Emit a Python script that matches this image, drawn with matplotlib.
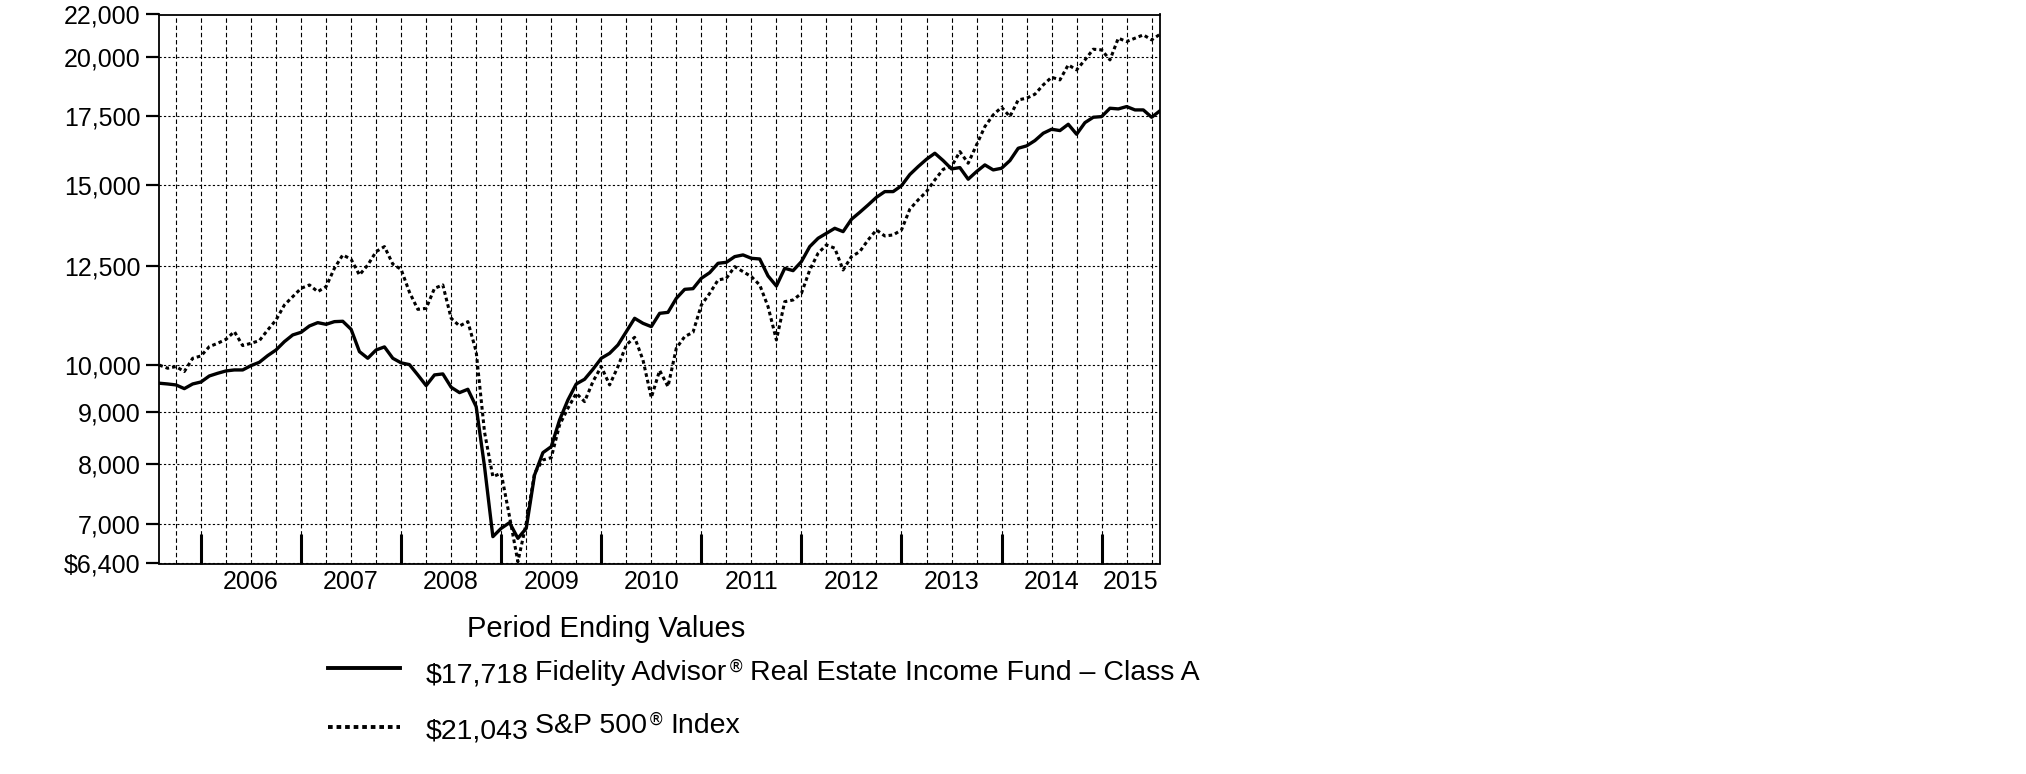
""" growth of a $10,000 investment, fund vs index """
import numpy as np
import matplotlib
matplotlib.use("Agg")
import matplotlib.pyplot as plt
from matplotlib.lines import Line2D

plt.rcParams['font.family'] = ['Liberation Sans', 'DejaVu Sans']

# monthly values, Jul 2005 .. Jul 2015
fund = [9600, 9584, 9563, 9484, 9584, 9627, 9758, 9817, 9869, 9891,
        9891, 9988, 10063, 10215, 10346, 10541, 10701, 10765, 10919, 11001,
        10960, 11026, 11035, 10837, 10307, 10154, 10346, 10417, 10154, 10050,
        10010, 9781, 9549, 9781, 9803, 9513, 9399, 9470, 9107, 7958,
        6798, 6927, 7016, 6773, 6927, 7810, 8212, 8324, 8838, 9245,
        9584, 9686, 9906, 10154, 10268, 10463, 10781, 11109, 10985, 10903,
        11234, 11259, 11619, 11857, 11875, 12155, 12310, 12572, 12600, 12762,
        12811, 12714, 12695, 12219, 11946, 12432, 12366, 12620, 13053, 13300,
        13450, 13602, 13500, 13880, 14100, 14335, 14585, 14772, 14772, 14970,
        15350, 15627, 15887, 16103, 15839, 15545, 15592, 15189, 15452, 15686,
        15510, 15568, 15839, 16285, 16371, 16568, 16844, 16996, 16945, 17187,
        16806, 17251, 17460, 17486, 17818, 17791, 17885, 17751, 17751, 17460,
        17718]
sp500 = [10000, 9929, 9966, 9855, 10154, 10207, 10424, 10502, 10597, 10781,
         10448, 10502, 10565, 10821, 11067, 11447, 11663, 11884, 11974, 11795,
         11929, 12432, 12811, 12687, 12246, 12524, 12907, 13053, 12550, 12400,
         11780, 11335, 11360, 11884, 11974, 11109, 10919, 11026, 10307, 8600,
         7781, 7840, 7111, 6426, 7006, 7840, 8078, 8120, 8740, 9074,
         9385, 9211, 9635, 9966, 9563, 9966, 10463, 10644, 10115, 9295,
         9880, 9527, 10386, 10661, 10765, 11447, 11750, 12108, 12155, 12478,
         12338, 12200, 11974, 11404, 10581, 11533, 11576, 11750, 12384, 12860,
         13103, 13006, 12384, 12762, 12907, 13252, 13551, 13369, 13400, 13551,
         14200, 14499, 14772, 15165, 15533, 15627, 16163, 15745, 16408, 17098,
         17553, 17859, 17486, 18156, 18224, 18389, 18779, 19105, 18991, 19643,
         19423, 19864, 20347, 20317, 19864, 20858, 20703, 20858, 21015, 20780,
         21043]
y_ticks = [6400, 7000, 8000, 9000, 10000, 12500, 15000, 17500, 20000, 22000]
y_labels = ['$6,400', '7,000', '8,000', '9,000', '10,000', '12,500',
            '15,000', '17,500', '20,000', '22,000']
years = ['2006', '2007', '2008', '2009', '2010', '2011', '2012', '2013',
         '2014', '2015']
fund_label = '$17,718'
sp_label = '$21,043'

W, H = 2026, 774
fig = plt.figure(figsize=(W / 100, H / 100), dpi=100)
ax = fig.add_axes([159.3 / W, 1 - 563.5 / H, 1000.7 / W, 549 / H])

months = np.arange(len(fund))
ax.plot(months, fund, color='black', lw=2.4, solid_joinstyle='round', zorder=4)
ax.plot(months, sp500, color='black', lw=2.2, linestyle=(0, (1.2, 1.0)), zorder=3)

ax.set_yscale('log')
ax.set_xlim(0, 120)
ax.set_ylim(6400, 22000)
ax.yaxis.set_minor_locator(matplotlib.ticker.NullLocator())
ax.set_yticks(y_ticks)
ax.set_yticklabels(y_labels)
ax.tick_params(axis='y', direction='out', length=9.4, width=1.6, pad=4,
               labelsize=18)

# year ticks on Jan 1st, labels in the middle of each year
year_pos = [5 + 12 * i for i in range(len(years))]
label_pos = [(p + min(p + 12, 120)) / 2 for p in year_pos]
ax.set_xticks(year_pos)
ax.set_xticklabels([''] * len(year_pos))
ax.set_xticks(label_pos, minor=True)
ax.set_xticklabels(years, minor=True)
ax.tick_params(axis='x', which='major', direction='in', length=21.6, width=2.2)
ax.tick_params(axis='x', which='minor', length=0, pad=4.5, labelsize=18)

# grid: quarterly dashed verticals, dotted horizontals
for q in range(2, 120, 3):
    ax.axvline(q, color='black', lw=0.8, linestyle=(0, (4, 2.5)), zorder=1)
ax.grid(axis='y', which='major', color='black', lw=0.8, linestyle=(0, (2, 2)),
        zorder=1)
for s in ax.spines.values():
    s.set_linewidth(1.3)

# legend block
fig.canvas.draw()
r = fig.canvas.get_renderer()


def put(x, y, s, size, **kw):
    t = fig.text(x / W, 1 - y / H, s, fontsize=size, ha='left', va='baseline', **kw)
    return x + t.get_window_extent(r).width


put(467, 637, 'Period Ending Values', 21)
fig.add_artist(Line2D([328 / W, 400 / W], [1 - 668 / H, 1 - 668 / H],
                      color='black', lw=2.8))
fig.add_artist(Line2D([328 / W, 400 / W], [1 - 727 / H, 1 - 727 / H],
                      color='black', lw=2.8, linestyle=(0, (1.2, 1.0))))
put(426, 683, fund_label, 20.5)
put(426, 738, sp_label, 20.5)

x = put(535, 680, 'Fidelity Advisor', 20.5)
x = put(x + 1, 672, '®', 12, family='DejaVu Sans')
put(x + 6, 680, 'Real Estate Income Fund – Class A', 20.5)

x = put(535, 733, 'S&P 500', 20.5)
x = put(x + 1, 725, '®', 12, family='DejaVu Sans')
put(x + 6, 733, 'Index', 20.5)

fig.savefig('out.png', dpi=100)
